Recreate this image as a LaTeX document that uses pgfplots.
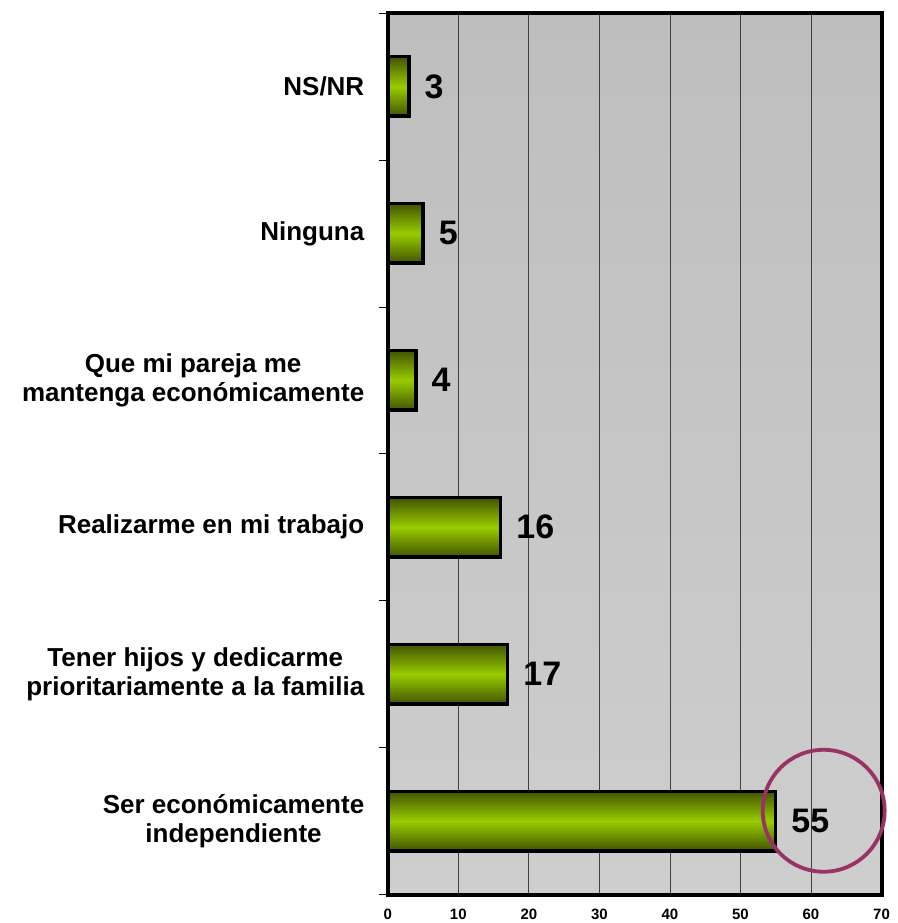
\documentclass[border=0pt]{standalone}
\usepackage{pgfplots}
\pgfplotsset{compat=1.18}
\usepackage{fontspec}
\setmainfont{Liberation Sans}
\definecolor{bardark}{RGB}{66,84,0}
\definecolor{barlight}{RGB}{153,204,0}
\definecolor{plum}{RGB}{153,51,102}
\definecolor{bgtop}{RGB}{190,190,190}
\definecolor{bgbot}{RGB}{206,206,206}
\begin{document}
\begin{tikzpicture}
\begin{axis}[
  scale only axis, width=494pt, height=882pt,
  xmin=0, xmax=70, ymin=0.5, ymax=6.5,
  clip=false,
  /pgf/number format/assume math mode=true,
  axis background/.style={top color=bgtop, bottom color=bgbot},
  xtick={0,10,20,30,40,50,60,70},
  ytick={1,2,3,4,5,6},
  yticklabels={{Ser económicamente\\independiente},{Tener hijos y dedicarme\\prioritariamente a la familia},{Realizarme en mi trabajo},{Que mi pareja me\\mantenga económicamente},{Ninguna},{NS/NR}},
  minor ytick={0.5,1.5,2.5,3.5,4.5,5.5,6.5},
  xtick pos=bottom, ytick pos=left,
  xmajorgrids,
  major grid style={black!75, line width=0.8pt},
  axis line style={line width=4pt},
  major tick length=0pt, minor tick length=9pt, tick align=outside,
  minor tick style={black, line width=0.6pt},
  xticklabel style={font=\bfseries\fontsize{15}{15}\selectfont, yshift=-11pt},
  yticklabel style={font=\bfseries\fontsize{26}{29}\selectfont, align=center, xshift=-20pt},
  mybar/.style={xbar, bar width=59.5pt, bar shift=0pt, draw=black, line width=3.5pt,
    top color=bardark, bottom color=bardark, middle color=barlight, mark=none},
  point meta=x,
  nodes near coords,
  nodes near coords style={font=\bfseries\fontsize{34}{34}\selectfont, anchor=west, inner sep=1pt, xshift=13pt, text=black},
]
\addplot[mybar] coordinates {(55,1)};
\addplot[mybar] coordinates {(17,2)};
\addplot[mybar] coordinates {(16,3)};
\addplot[mybar] coordinates {(4,4)};
\addplot[mybar] coordinates {(5,5)};
\addplot[mybar] coordinates {(3,6)};
\draw[plum, line width=3.8pt] (axis cs:61.8,1.07) circle[radius=61pt];
\end{axis}
\path ([xshift=-388pt,yshift=-28pt]current axis.south west) rectangle ([xshift=16pt,yshift=13pt]current axis.north east);
\end{tikzpicture}
\end{document}
